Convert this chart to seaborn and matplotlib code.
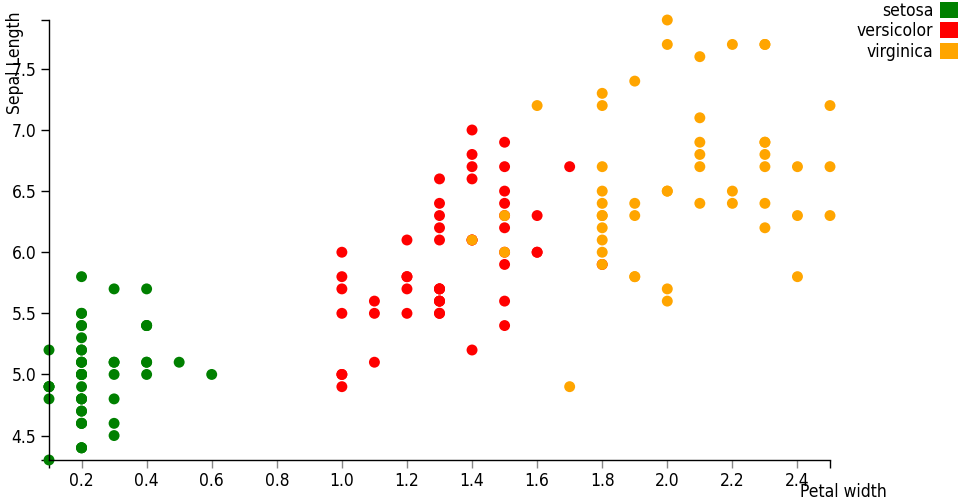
import pandas as pd
import matplotlib.pyplot as plt
import seaborn as sns
from matplotlib.patches import Patch

# iris: petal width / sepal length per species
setosa_pw = [0.2, 0.2, 0.2, 0.2, 0.2, 0.4, 0.3, 0.2, 0.2, 0.1,
             0.2, 0.2, 0.1, 0.1, 0.2, 0.4, 0.4, 0.3, 0.3, 0.3,
             0.2, 0.4, 0.2, 0.5, 0.2, 0.2, 0.4, 0.2, 0.2, 0.2,
             0.2, 0.4, 0.1, 0.2, 0.1, 0.2, 0.2, 0.1, 0.2, 0.2,
             0.3, 0.3, 0.2, 0.6, 0.4, 0.3, 0.2, 0.2, 0.2, 0.2]
setosa_sl = [5.1, 4.9, 4.7, 4.6, 5.0, 5.4, 4.6, 5.0, 4.4, 4.9,
             5.4, 4.8, 4.8, 4.3, 5.8, 5.7, 5.4, 5.1, 5.7, 5.1,
             5.4, 5.1, 4.6, 5.1, 4.8, 5.0, 5.0, 5.2, 5.2, 4.7,
             4.8, 5.4, 5.2, 5.5, 4.9, 5.0, 5.5, 4.9, 4.4, 5.1,
             5.0, 4.5, 4.4, 5.0, 5.1, 4.8, 5.1, 4.6, 5.3, 5.0]

versicolor_pw = [1.4, 1.5, 1.5, 1.3, 1.5, 1.3, 1.6, 1.0, 1.3, 1.4,
                 1.0, 1.5, 1.0, 1.4, 1.3, 1.4, 1.5, 1.0, 1.5, 1.1,
                 1.8, 1.3, 1.5, 1.2, 1.3, 1.4, 1.4, 1.7, 1.5, 1.0,
                 1.1, 1.0, 1.2, 1.6, 1.5, 1.6, 1.5, 1.3, 1.3, 1.3,
                 1.2, 1.4, 1.2, 1.0, 1.3, 1.2, 1.3, 1.3, 1.1, 1.3]
versicolor_sl = [7.0, 6.4, 6.9, 5.5, 6.5, 5.7, 6.3, 4.9, 6.6, 5.2,
                 5.0, 5.9, 6.0, 6.1, 5.6, 6.7, 5.6, 5.8, 6.2, 5.6,
                 5.9, 6.1, 6.3, 6.1, 6.4, 6.6, 6.8, 6.7, 6.0, 5.7,
                 5.5, 5.5, 5.8, 6.0, 5.4, 6.0, 6.7, 6.3, 5.6, 5.5,
                 5.5, 6.1, 5.8, 5.0, 5.6, 5.7, 5.7, 6.2, 5.1, 5.7]

virginica_pw = [2.5, 1.9, 2.1, 1.8, 2.2, 2.1, 1.7, 1.8, 1.8, 2.5,
                2.0, 1.9, 2.1, 2.0, 2.4, 2.3, 1.8, 2.2, 2.3, 1.5,
                2.3, 2.0, 2.0, 1.8, 2.1, 1.8, 1.8, 1.8, 2.1, 1.6,
                1.9, 2.0, 2.2, 1.5, 1.4, 2.3, 2.4, 1.8, 1.8, 2.1,
                2.4, 2.3, 1.9, 2.3, 2.5, 2.3, 1.9, 2.0, 2.3, 1.8]
virginica_sl = [6.3, 5.8, 7.1, 6.3, 6.5, 7.6, 4.9, 7.3, 6.7, 7.2,
                6.5, 6.4, 6.8, 5.7, 5.8, 6.4, 6.5, 7.7, 7.7, 6.0,
                6.9, 5.6, 7.7, 6.3, 6.7, 7.2, 6.2, 6.1, 6.4, 7.2,
                7.4, 7.9, 6.4, 6.3, 6.1, 7.7, 6.3, 6.4, 6.0, 6.9,
                6.7, 6.9, 5.8, 6.8, 6.7, 6.7, 6.3, 6.5, 6.2, 5.9]

species = ["setosa", "versicolor", "virginica"]
colors = {"setosa": "#008000", "versicolor": "#ff0000", "virginica": "#ffa500"}

df = pd.concat([
    pd.DataFrame({"petal_width": setosa_pw, "sepal_length": setosa_sl, "species": "setosa"}),
    pd.DataFrame({"petal_width": versicolor_pw, "sepal_length": versicolor_sl, "species": "versicolor"}),
    pd.DataFrame({"petal_width": virginica_pw, "sepal_length": virginica_sl, "species": "virginica"}),
], ignore_index=True)

sns.set_theme(style="white")
plt.rcParams['font.family'] = ['DejaVu Sans']
plt.rcParams['font.stretch'] = 'condensed'
plt.rcParams['text.color'] = 'black'

fig = plt.figure(figsize=(9.6, 5), dpi=100)
ax = fig.add_axes([49 / 960, 40 / 500, 781 / 960, 440 / 500])

sns.scatterplot(data=df, x="petal_width", y="sepal_length", hue="species",
                hue_order=species, palette=colors, s=62, linewidth=0,
                alpha=1, legend=False, ax=ax, clip_on=False)

ax.set_xlim(0.1, 2.5)
ax.set_ylim(4.3, 7.9)
ax.set_xticks([0.2, 0.4, 0.6, 0.8, 1.0, 1.2, 1.4, 1.6, 1.8, 2.0, 2.2, 2.4])
ax.set_yticks([4.5, 5.0, 5.5, 6.0, 6.5, 7.0, 7.5])
ax.xaxis.set_major_formatter(plt.FormatStrFormatter('%.1f'))
ax.yaxis.set_major_formatter(plt.FormatStrFormatter('%.1f'))
# outer end ticks like the d3 axis
ax.set_xticks([0.1, 2.5], minor=True)
ax.set_yticks([4.3, 7.9], minor=True)
ax.tick_params(axis='both', which='both', direction='out', length=6, width=1,
               labelsize=12.5, pad=3, color='black', labelcolor='black')
ax.tick_params(axis='x', which='major', color='#888888')
ax.tick_params(axis='both', which='both', bottom=True, left=True)
sns.despine(ax=ax)
for side in ['left', 'bottom']:
    ax.spines[side].set_color('black')
    ax.spines[side].set_linewidth(1)
ax.set_xlabel("")
ax.set_ylabel("")

fig.text(15 / 960, 1 - 12 / 500, "Sepal Length", rotation=90, ha='center', va='top', fontsize=12.5)
fig.text(800 / 960, 3 / 500, "Petal width", ha='left', va='baseline', fontsize=12.5)

handles = [Patch(facecolor=colors[s], edgecolor='none', label=s) for s in species]
fig.legend(handles=handles, loc='upper right', bbox_to_anchor=(1.0, 1.0),
           markerfirst=False, frameon=False, fontsize=12.5, handlelength=1.05,
           handleheight=1.05, handletextpad=0.4, labelspacing=0.15,
           borderaxespad=0.1, borderpad=0.0)

fig.savefig("out.png", dpi=100)
